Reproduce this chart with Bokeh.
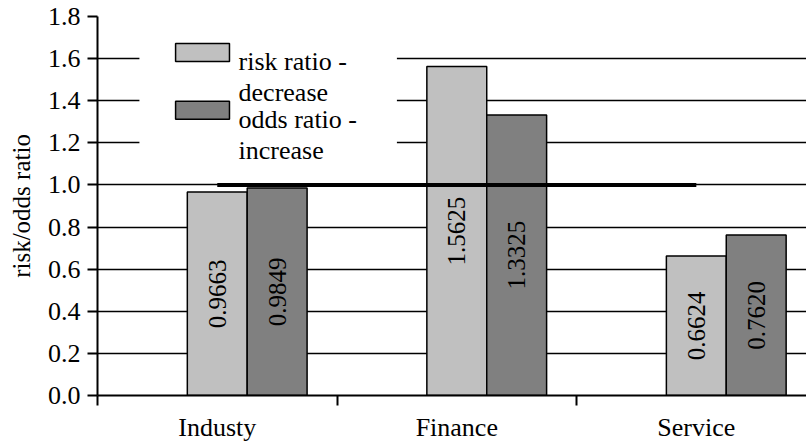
from math import pi
from bokeh.plotting import figure
from bokeh.models import (Range1d, FixedTicker, NumeralTickFormatter, ColumnDataSource)
from bokeh.core.properties import value
from bokeh.embed import file_html
from bokeh.resources import INLINE

# ---- data ----
categories = ["Industy", "Finance", "Service"]
risk_ratio = [0.9663, 1.5625, 0.6624]
odds_ratio = [0.9849, 1.3325, 0.7620]
risk_labels = ["0.9663", "1.5625", "0.6624"]
odds_labels = ["0.9849", "1.3325", "0.7620"]
ref_level = 1.0
y_ticks = [0.0, 0.2, 0.4, 0.6, 0.8, 1.0, 1.2, 1.4, 1.6, 1.8]
legend_texts = ["risk ratio -", "decrease", "odds ratio -", "increase"]

FONT = "Liberation Serif"
LIGHT = "#c0c0c0"
DARK = "#808080"

n = len(categories)
idx = list(range(n))

p = figure(width=806, height=444, output_backend="svg", toolbar_location=None,
           x_range=Range1d(0, 2.96), y_range=Range1d(0, 1.8),
           min_border_left=97, min_border_right=0, min_border_top=16,
           min_border_bottom=40)
p.outline_line_color = None
p.background_fill_color = "white"
p.border_fill_color = "white"

# grid
p.xgrid.grid_line_color = None
p.ygrid.ticker = FixedTicker(ticks=y_ticks)
p.ygrid.grid_line_color = "black"
p.ygrid.grid_line_width = 1.6

# y axis
ya = p.yaxis[0]
ya.ticker = FixedTicker(ticks=y_ticks)
ya.formatter = NumeralTickFormatter(format="0.0")
ya.axis_label = "risk/odds ratio"
ya.axis_label_text_font = FONT
ya.axis_label_text_font_style = "normal"
ya.axis_label_text_font_size = "25px"
ya.axis_label_text_color = "black"
ya.axis_label_standoff = 10
ya.major_label_text_font = FONT
ya.major_label_text_font_size = "26px"
ya.major_label_text_color = "black"
ya.major_label_standoff = 7
ya.axis_line_color = "black"
ya.axis_line_width = 2
ya.major_tick_line_color = "black"
ya.major_tick_line_width = 2
ya.major_tick_out = 10
ya.major_tick_in = 0
ya.minor_tick_line_color = None

# x axis: labels at centers, tick marks at category boundaries
xa = p.xaxis[0]
xa.ticker = FixedTicker(ticks=[i + 0.5 for i in idx], minor_ticks=list(range(n + 1)))
xa.major_label_overrides = {i + 0.5: c for i, c in zip(idx, categories)}
xa.major_label_text_font = FONT
xa.major_label_text_font_size = "26px"
xa.major_label_text_color = "black"
xa.major_label_text_line_height = 1.0
xa.major_label_standoff = 7
xa.major_tick_line_color = None
xa.major_tick_out = 0
xa.major_tick_in = 0
xa.minor_tick_line_color = "black"
xa.minor_tick_line_width = 2
xa.minor_tick_out = 10
xa.minor_tick_in = 0
xa.axis_line_color = "black"
xa.axis_line_width = 2

# bars
src = ColumnDataSource(dict(
    rl=[i + 0.375 for i in idx], rr=[i + 0.625 for i in idx],
    ol=[i + 0.625 for i in idx], orr=[i + 0.875 for i in idx],
    risk=risk_ratio, odds=odds_ratio,
    rx=[i + 0.5 for i in idx], ox=[i + 0.75 for i in idx],
    ry=[v / 2 for v in risk_ratio], oy=[v / 2 for v in odds_ratio],
    rlab=risk_labels, olab=odds_labels,
))
p.quad(left="rl", right="rr", bottom=0, top="risk", source=src,
       fill_color=LIGHT, line_color="black", line_width=1.5)
p.quad(left="ol", right="orr", bottom=0, top="odds", source=src,
       fill_color=DARK, line_color="black", line_width=1.5)

# value labels (rotated)
for xcol, ycol, tcol in (("rx", "ry", "rlab"), ("ox", "oy", "olab")):
    p.text(x=xcol, y=ycol, text=tcol, source=src, angle=pi / 2,
           text_align="center", text_baseline="middle",
           text_font=value(FONT), text_font_size="25px", text_color="black")

# reference line at 1.0 from first to last category center
p.segment(x0=[0.5], x1=[n - 0.5], y0=[ref_level], y1=[ref_level],
          line_color="black", line_width=4)

# manual legend (white box, swatches, two-line labels)
p.quad(left=[0.175], right=[1.25], bottom=[1.09], top=[1.76],
       fill_color="white", line_color=None)
p.quad(left=[0.326, 0.326], right=[0.551, 0.551],
       bottom=[1.586, 1.312], top=[1.672, 1.397],
       fill_color=[LIGHT, DARK], line_color="black", line_width=1.5)
p.text(x=[0.589] * 4, y=[1.587, 1.44, 1.312, 1.165], text=legend_texts,
       text_align="left", text_baseline="alphabetic",
       text_font=value(FONT), text_font_size="26px", text_color="black")

open("out.html", "w").write(file_html(p, INLINE))
